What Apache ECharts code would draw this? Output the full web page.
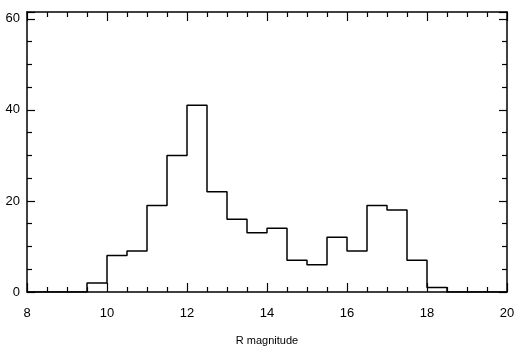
<!DOCTYPE html>
<html>
<head>
<meta charset="utf-8">
<script src="https://cdn.jsdelivr.net/npm/echarts@6/dist/echarts.min.js"></script>
<style>html,body{margin:0;padding:0;background:#fff;}#c{width:530px;height:351px;}</style>
</head>
<body>
<div id="c"></div>
<script>
// Histogram of R magnitude, bin width 0.5
const binLeft = [9.5, 10, 10.5, 11, 11.5, 12, 12.5, 13, 13.5, 14, 14.5, 15, 15.5, 16, 16.5, 17, 17.5, 18];
const counts  = [2, 8, 9, 19, 30, 41, 22, 16, 13, 14, 7, 6, 12, 9, 19, 18, 7, 1];
const binWidth = 0.5;
const xTicks = [8, 10, 12, 14, 16, 18, 20];
const yTicks = [0, 20, 40, 60];

const data = [[xTicks[0], 0]];
binLeft.forEach((x, i) => data.push([x, counts[i]]));
data.push([binLeft[binLeft.length - 1] + binWidth, 0]);
data.push([xTicks[xTicks.length - 1], 0]);

const font = 'Liberation Sans, Arial, sans-serif';
const axLine = {show: true, onZero: false, lineStyle: {color: '#000', width: 1.5}};
const chart = echarts.init(document.getElementById('c'), null, {renderer: 'canvas'});
chart.setOption({
  animation: false,
  backgroundColor: '#fff',
  grid: {left: 27, right: 23, top: 12, bottom: 58, containLabel: false},
  xAxis: [{
    type: 'value', position: 'bottom', min: 8, max: 20, interval: 2,
    axisLine: axLine,
    axisTick: {show: true, inside: true, length: 9, lineStyle: {color: '#000', width: 1.2}},
    minorTick: {show: true, splitNumber: 4, length: 5, lineStyle: {color: '#000', width: 1.2}},
    splitLine: {show: false},
    axisLabel: {color: '#000', fontSize: 13, fontFamily: font, margin: 15},
    name: 'R magnitude', nameLocation: 'middle', nameGap: 43,
    nameTextStyle: {color: '#000', fontSize: 11, fontFamily: font}
  }, {
    type: 'value', position: 'top', min: 8, max: 20, interval: 2,
    axisLine: axLine,
    axisTick: {show: true, inside: true, length: 9, lineStyle: {color: '#000', width: 1.2}},
    minorTick: {show: true, splitNumber: 4, length: 5, lineStyle: {color: '#000', width: 1.2}},
    splitLine: {show: false},
    axisLabel: {show: false}
  }],
  yAxis: [{
    type: 'value', position: 'left', min: 0, max: 61.5, interval: 20,
    axisLine: axLine,
    axisTick: {show: true, inside: true, length: 8, lineStyle: {color: '#000', width: 1.2}},
    minorTick: {show: true, splitNumber: 4, length: 5, lineStyle: {color: '#000', width: 1.2}},
    splitLine: {show: false},
    axisLabel: {color: '#000', fontSize: 13, fontFamily: font, margin: 7, showMaxLabel: false,
      formatter: v => (yTicks.includes(v) ? String(v) : '')}
  }, {
    type: 'value', position: 'right', min: 0, max: 61.5, interval: 20,
    axisLine: axLine,
    axisTick: {show: true, inside: true, length: 8, lineStyle: {color: '#000', width: 1.2}},
    minorTick: {show: true, splitNumber: 4, length: 5, lineStyle: {color: '#000', width: 1.2}},
    splitLine: {show: false},
    axisLabel: {show: false}
  }],
  series: [{
    type: 'line', step: 'end', data: data, xAxisIndex: 0, yAxisIndex: 0,
    symbol: 'none', lineStyle: {color: '#000', width: 1.5}, silent: true
  }]
});
</script>
</body>
</html>
